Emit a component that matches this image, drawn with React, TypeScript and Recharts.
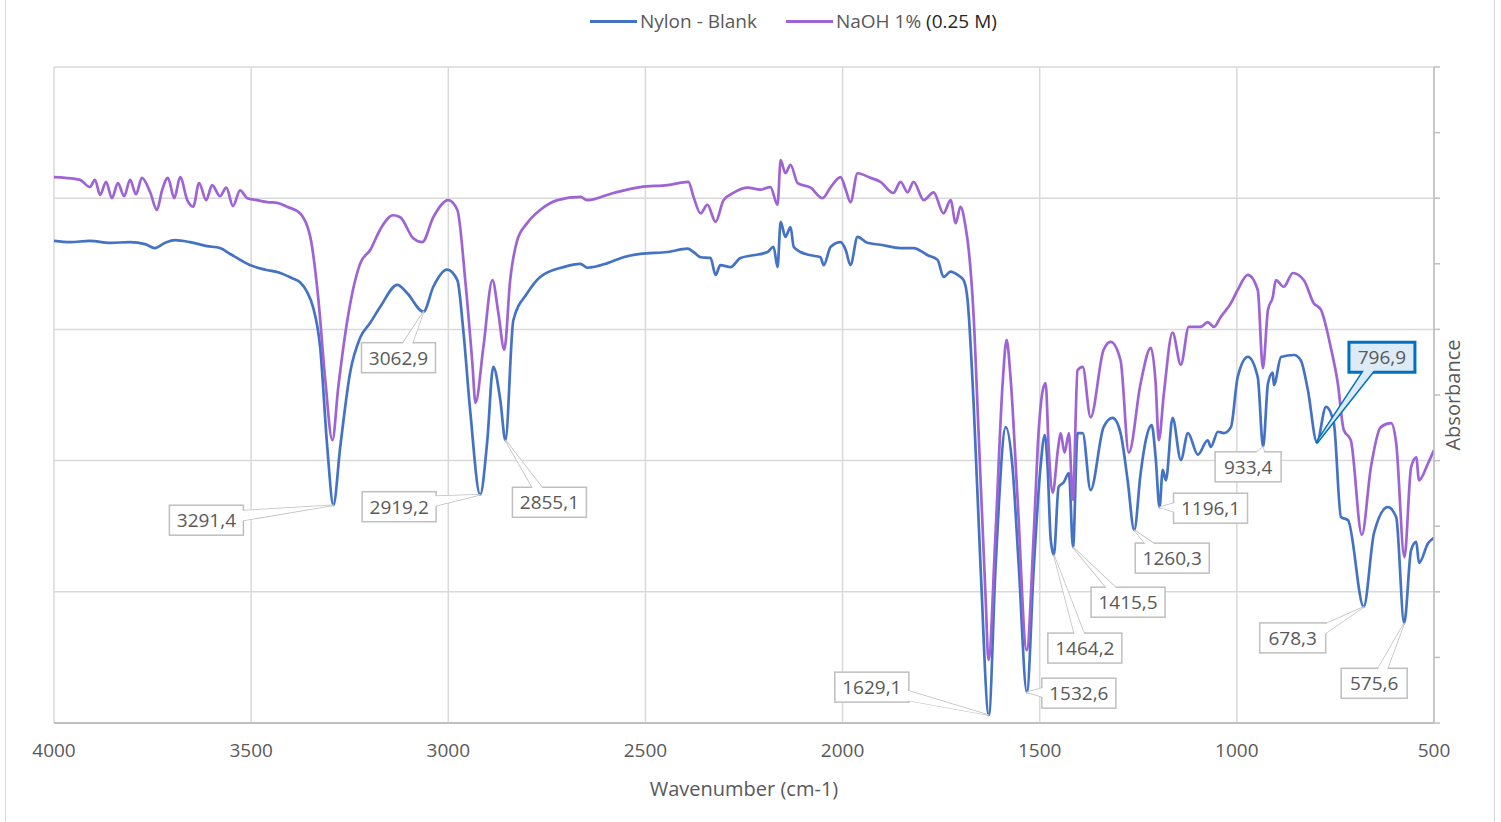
import React from "react";
import { LineChart, Line, XAxis, YAxis, CartesianGrid, ReferenceDot } from "recharts";

const FONT = '"Open Sans", "Liberation Sans", sans-serif';
const TEXT = "#595959";
const BLUE = "#4472C4";
const PURPLE = "#9E63D4";
const GRID = "#D9D9D9";

// Nylon - Blank
const blankWn = [4000, 3959, 3909, 3858, 3807, 3769, 3744, 3718, 3693, 3655, 3612, 3579, 3553, 3503, 3464, 3426, 3396, 3376, 3358, 3343, 3325, 3307, 3291.4, 3274, 3249, 3223, 3198, 3173, 3129, 3104, 3062.9, 3038, 3003, 2977, 2962, 2944, 2919.2, 2901, 2886, 2868, 2855.1, 2835, 2800, 2767, 2708, 2665, 2647, 2596, 2556, 2513, 2444, 2393, 2378, 2360, 2335, 2322, 2310, 2284, 2259, 2226, 2190, 2175, 2165, 2157, 2145, 2132, 2124, 2107, 2081, 2056, 2048, 2030, 2005, 1992, 1980, 1962, 1937, 1904, 1853, 1820, 1784, 1759, 1744, 1726, 1708, 1693, 1683, 1668, 1650, 1629.1, 1612, 1586, 1569, 1553, 1532.6, 1515, 1498, 1487, 1480, 1472, 1464.2, 1452, 1439, 1426, 1415.5, 1404, 1391, 1371, 1338, 1315, 1295, 1277, 1260.3, 1244, 1231, 1216, 1206, 1196.1, 1188, 1180, 1163, 1142, 1124, 1099, 1074, 1066, 1048, 1033, 1015, 998, 972, 947, 933.4, 921, 909, 906, 888, 855, 838, 820, 796.9, 774, 754, 736, 718, 678.3, 652, 617, 596, 575.6, 558, 545, 538, 515, 500];
const blankAbs = [0.735, 0.733, 0.735, 0.732, 0.733, 0.73, 0.724, 0.732, 0.736, 0.733, 0.727, 0.724, 0.715, 0.698, 0.691, 0.686, 0.678, 0.672, 0.657, 0.634, 0.573, 0.421, 0.332, 0.421, 0.534, 0.588, 0.61, 0.634, 0.668, 0.655, 0.627, 0.665, 0.691, 0.675, 0.599, 0.473, 0.348, 0.431, 0.543, 0.492, 0.431, 0.614, 0.655, 0.68, 0.695, 0.7, 0.694, 0.701, 0.71, 0.715, 0.718, 0.723, 0.718, 0.71, 0.709, 0.683, 0.698, 0.695, 0.709, 0.713, 0.718, 0.726, 0.695, 0.764, 0.741, 0.756, 0.726, 0.718, 0.713, 0.71, 0.698, 0.726, 0.733, 0.721, 0.698, 0.741, 0.732, 0.729, 0.724, 0.724, 0.713, 0.706, 0.68, 0.688, 0.683, 0.675, 0.645, 0.492, 0.238, 0.012, 0.238, 0.451, 0.39, 0.238, 0.047, 0.238, 0.39, 0.439, 0.39, 0.279, 0.256, 0.36, 0.367, 0.381, 0.268, 0.442, 0.442, 0.355, 0.451, 0.465, 0.442, 0.37, 0.294, 0.381, 0.431, 0.454, 0.405, 0.329, 0.386, 0.37, 0.465, 0.401, 0.442, 0.409, 0.431, 0.421, 0.444, 0.442, 0.451, 0.527, 0.558, 0.527, 0.421, 0.518, 0.534, 0.515, 0.558, 0.561, 0.553, 0.508, 0.428, 0.482, 0.457, 0.314, 0.309, 0.177, 0.29, 0.329, 0.314, 0.152, 0.264, 0.276, 0.244, 0.274, 0.282];

// NaOH 1% (0.25 M)
const naohWn = [4000, 3972, 3934, 3909, 3896, 3883, 3868, 3853, 3838, 3822, 3807, 3792, 3777, 3756, 3739, 3726, 3711, 3695, 3680, 3662, 3647, 3632, 3614, 3599, 3579, 3563, 3546, 3528, 3510, 3485, 3459, 3434, 3409, 3376, 3350, 3330, 3312, 3294, 3279, 3256, 3223, 3198, 3173, 3140, 3122, 3089, 3066, 3038, 3000, 2977, 2957, 2939, 2931, 2911, 2888, 2873, 2858, 2843, 2825, 2800, 2767, 2723, 2665, 2647, 2581, 2513, 2444, 2391, 2378, 2360, 2343, 2322, 2302, 2277, 2241, 2208, 2183, 2165, 2157, 2145, 2132, 2114, 2081, 2051, 2030, 2005, 1992, 1980, 1962, 1929, 1904, 1871, 1853, 1835, 1820, 1794, 1769, 1744, 1726, 1713, 1701, 1688, 1680, 1668, 1655, 1637, 1630, 1612, 1594, 1584, 1574, 1556, 1533, 1515, 1503, 1492, 1485, 1477, 1467, 1454, 1447, 1437, 1426, 1416, 1404, 1391, 1371, 1338, 1320, 1295, 1274, 1244, 1218, 1206, 1198, 1185, 1163, 1142, 1122, 1092, 1074, 1058, 1041, 1015, 998, 972, 947, 934, 921, 909, 901, 881, 858, 830, 805, 787, 762, 744, 729, 711, 683, 660, 635, 609, 596, 575, 558, 545, 538, 515, 500];
const naohAbs = [0.832, 0.831, 0.828, 0.817, 0.828, 0.805, 0.825, 0.8, 0.823, 0.803, 0.828, 0.806, 0.831, 0.809, 0.782, 0.812, 0.831, 0.8, 0.832, 0.797, 0.787, 0.823, 0.797, 0.82, 0.803, 0.816, 0.788, 0.812, 0.8, 0.797, 0.794, 0.793, 0.787, 0.777, 0.741, 0.649, 0.523, 0.431, 0.512, 0.614, 0.701, 0.721, 0.752, 0.774, 0.771, 0.739, 0.733, 0.771, 0.797, 0.782, 0.675, 0.549, 0.488, 0.573, 0.675, 0.625, 0.569, 0.675, 0.736, 0.762, 0.782, 0.797, 0.802, 0.797, 0.808, 0.817, 0.82, 0.825, 0.802, 0.777, 0.79, 0.764, 0.797, 0.808, 0.816, 0.813, 0.817, 0.79, 0.858, 0.838, 0.851, 0.823, 0.816, 0.8, 0.817, 0.832, 0.813, 0.794, 0.838, 0.831, 0.825, 0.808, 0.825, 0.809, 0.825, 0.797, 0.809, 0.777, 0.797, 0.762, 0.787, 0.756, 0.721, 0.625, 0.442, 0.188, 0.096, 0.29, 0.518, 0.584, 0.527, 0.34, 0.111, 0.29, 0.442, 0.508, 0.518, 0.416, 0.351, 0.416, 0.442, 0.412, 0.442, 0.34, 0.538, 0.543, 0.466, 0.569, 0.581, 0.553, 0.412, 0.518, 0.572, 0.518, 0.431, 0.503, 0.595, 0.546, 0.604, 0.604, 0.611, 0.604, 0.619, 0.64, 0.66, 0.683, 0.66, 0.541, 0.63, 0.649, 0.675, 0.665, 0.686, 0.675, 0.64, 0.63, 0.573, 0.518, 0.447, 0.431, 0.287, 0.39, 0.451, 0.457, 0.427, 0.253, 0.39, 0.405, 0.37, 0.396, 0.416];

// labelled peaks (on the blank spectrum)
const peakWn = [3291.4, 3062.9, 2919.2, 2855.1, 1629.1, 1532.6, 1464.2, 1415.5, 1260.3, 1196.1, 933.4, 796.9, 678.3, 575.6];
const peakAbs = [0.332, 0.627, 0.348, 0.431, 0.012, 0.047, 0.256, 0.268, 0.294, 0.329, 0.421, 0.428, 0.177, 0.152];

const xTicks = [4000, 3500, 3000, 2500, 2000, 1500, 1000, 500];
const yTicks = [0, 0.1, 0.2, 0.3, 0.4, 0.5, 0.6, 0.7, 0.8, 0.9, 1];
const yGrid = [0, 0.2, 0.4, 0.6, 0.8, 1];

// where each callout box sits, relative to its peak (px)
const calloutOffsets = [[-127, 15], [-25, 46], [-81, 12], [44, 62], [-117, -28], [52, 1], [31, 93], [55, 55], [38, 28], [51, 1], [-15, 20], [65, -85], [-71, 31], [-30, 60]];
const HIGHLIGHT = 11;

const series = [
  { name: "Nylon - Blank", color: BLUE, data: blankWn.map((wn, i) => ({ wn, abs: blankAbs[i] })) },
  { name: "NaOH 1% (0.25 M)", color: PURPLE, data: naohWn.map((wn, i) => ({ wn, abs: naohAbs[i] })) },
];

const fmt = (v: number) => v.toFixed(1).replace(".", ",");
const clamp = (v: number, a: number, b: number) => Math.max(a, Math.min(b, v));

const Callout = ({ cx, cy, text, dx, dy, hl }: any) => {
  if (cx == null || cy == null) return null;
  const w = text.length > 5 ? 74 : 66;
  const h = 30;
  const hw = w / 2, hh = h / 2;
  const bx = cx + dx, by = cy + dy;
  const vx = cx - bx, vy = cy - by;
  const sw = hl ? 3 : 1.5;
  const inset = sw + 1;
  const half = 5;
  let b1: number[], b2: number[];
  if (Math.abs(vx) / hw > Math.abs(vy) / hh) {
    const ex = bx + Math.sign(vx) * (hw - inset);
    const iy = clamp(by + (vy * hw) / Math.abs(vx), by - hh + half + 2, by + hh - half - 2);
    b1 = [ex, iy - half];
    b2 = [ex, iy + half];
  } else {
    const ey = by + Math.sign(vy) * (hh - inset);
    const ix = clamp(bx + (vx * hh) / Math.abs(vy), bx - hw + half + 2, bx + hw - half - 2);
    b1 = [ix - half, ey];
    b2 = [ix + half, ey];
  }
  const pts = `${b1[0]},${b1[1]} ${cx},${cy} ${b2[0]},${b2[1]}`;
  const stroke = hl ? "#0070C0" : "#BFBFBF";
  const fill = hl ? "#DDEBF7" : "#FFFFFF";
  return (
    <g>
      <polygon points={pts} fill={fill} stroke={stroke} strokeWidth={sw} strokeLinejoin="round" />
      <rect x={bx - hw} y={by - hh} width={w} height={h} fill={fill} stroke={stroke} strokeWidth={sw} />
      <polygon points={pts} fill={fill} stroke="none" />
      <text x={bx} y={by} textAnchor="middle" dominantBaseline="central" fontSize={19} fill={TEXT} fontFamily={FONT}>
        {text}
      </text>
    </g>
  );
};

const XTitle = ({ viewBox }: any) => {
  const { x, y, width } = viewBox;
  return (
    <text x={x + width / 2} y={y + 65} textAnchor="middle" dominantBaseline="central" fontSize={20} fill={TEXT} fontFamily={FONT}>
      Wavenumber (cm-1)
    </text>
  );
};

const YTitle = ({ viewBox }: any) => {
  const { x, y, height } = viewBox;
  const cx = x + 18, cy = y + height / 2;
  return (
    <text x={cx} y={cy} transform={`rotate(-90 ${cx} ${cy})`} textAnchor="middle" dominantBaseline="central" fontSize={20} fill={TEXT} fontFamily={FONT}>
      Absorbance
    </text>
  );
};

const NoTick = () => <g />;

const LegendRow = () => (
  <div style={{ position: "absolute", left: 590, top: 8, display: "flex", alignItems: "center", gap: 29, fontFamily: FONT, fontSize: 19, color: TEXT, whiteSpace: "nowrap" }}>
    {series.map((s) => {
      const cut = s.name.indexOf("(");
      return (
        <div key={s.name} style={{ display: "flex", alignItems: "center" }}>
          <span style={{ display: "inline-block", width: 47, height: 3, background: s.color, marginRight: 3 }} />
          {cut > 0 ? (
            <span>
              {s.name.slice(0, cut)}
              <span style={{ color: "#262626" }}>{s.name.slice(cut)}</span>
            </span>
          ) : (
            <span>{s.name}</span>
          )}
        </div>
      );
    })}
  </div>
);

export default function App() {
  return (
    <div style={{ position: "absolute", left: 0, top: 0, width: 1501, height: 822, background: "#fff" }}>
      <div style={{ position: "absolute", left: 5, top: 0, width: 1488, height: 822, borderLeft: "1px solid #D9D9D9", borderRight: "1px solid #D9D9D9" }} />
      <LegendRow />
      <div style={{ position: "absolute", left: 0, top: 0 }}>
        <LineChart width={1501} height={822} margin={{ top: 67, right: 27, left: 54, bottom: 39 }}>
          <CartesianGrid stroke={GRID} strokeWidth={1.5} verticalValues={xTicks} horizontalValues={yGrid} />
          <XAxis
            dataKey="wn"
            type="number"
            domain={[500, 4000]}
            reversed
            ticks={xTicks}
            allowDataOverflow
            height={60}
            tickLine={false}
            tickMargin={15}
            axisLine={{ stroke: "#BFBFBF", strokeWidth: 2 }}
            tick={{ fontSize: 19, fill: TEXT, fontFamily: FONT }}
            label={<XTitle />}
          />
          <YAxis
            orientation="right"
            type="number"
            domain={[0, 1]}
            ticks={yTicks}
            allowDataOverflow
            width={40}
            tick={<NoTick />}
            tickSize={6}
            tickLine={{ stroke: "#BFBFBF", strokeWidth: 1.5 }}
            axisLine={{ stroke: "#BFBFBF", strokeWidth: 1.5 }}
            label={<YTitle />}
          />
          {series.map((s) => (
            <Line
              key={s.name}
              data={s.data}
              dataKey="abs"
              name={s.name}
              type="monotoneX"
              stroke={s.color}
              strokeWidth={2.7}
              dot={false}
              isAnimationActive={false}
            />
          ))}
          {peakWn.map((wn, i) => (
            <ReferenceDot
              key={wn}
              x={wn}
              y={peakAbs[i]}
              r={0}
              ifOverflow="visible"
              shape={(p: any) => (
                <Callout cx={p.cx} cy={p.cy} text={fmt(wn)} dx={calloutOffsets[i][0]} dy={calloutOffsets[i][1]} hl={i === HIGHLIGHT} />
              )}
            />
          ))}
        </LineChart>
      </div>
    </div>
  );
}
